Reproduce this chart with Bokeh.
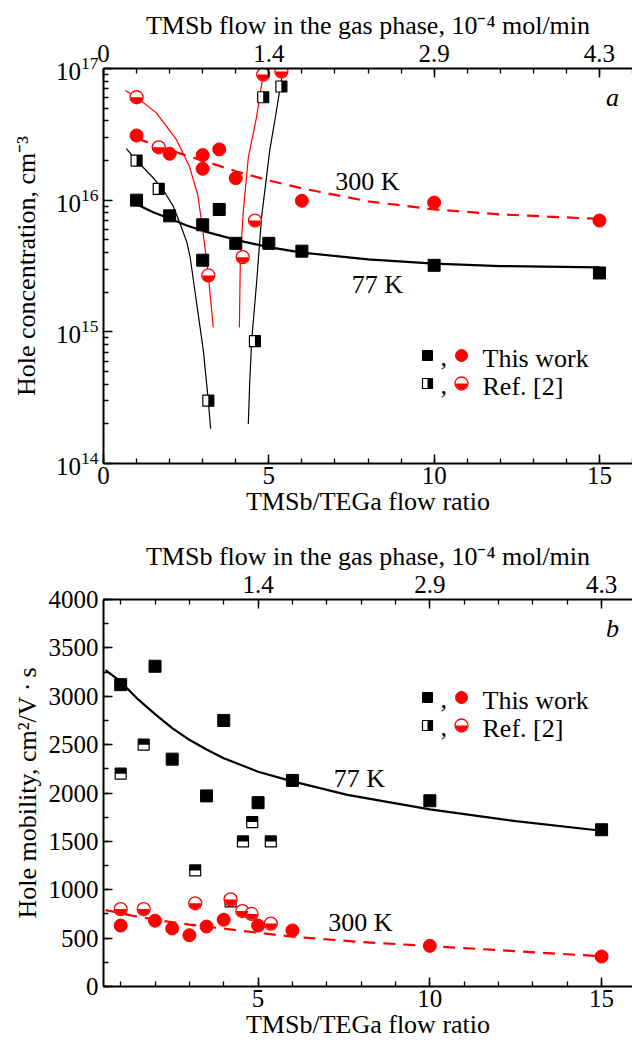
import math
from bokeh.plotting import figure
from bokeh.models import Range1d, LinearScale, LinearAxis, FixedTicker
from bokeh.core.properties import value
from bokeh.layouts import column
from bokeh.embed import file_html
from bokeh.resources import INLINE

# ---------------- panel a: hole concentration (cm^-3) ----------------
a_this77_ratio = [1, 2, 3, 3, 3.5, 4, 5, 6, 10, 15]
a_this77_conc = [1.0e16, 7.6e15, 6.5e15, 3.5e15, 8.5e15, 4.7e15, 4.7e15, 4.1e15, 3.2e15, 2.8e15]
a_this300_ratio = [1, 2, 3, 3, 3.5, 4, 6, 10, 15]
a_this300_conc = [3.1e16, 2.25e16, 2.2e16, 1.73e16, 2.43e16, 1.47e16, 9.9e15, 9.6e15, 7.0e15]
a_ref77_ratio = [1.0, 1.67, 3.17, 4.58, 4.83, 5.38]
a_ref77_conc = [2.0e16, 1.22e16, 3.0e14, 8.5e14, 6.05e16, 7.3e16]
a_ref300_ratio = [1.0, 1.67, 3.17, 4.21, 4.58, 4.83, 5.38]
a_ref300_conc = [6.05e16, 2.52e16, 2.68e15, 3.69e15, 7.0e15, 9.0e16, 9.5e16]

a_fit77_ratio = [1, 1.5, 2, 2.5, 3, 3.5, 4, 5, 6, 8, 10, 12, 15]
a_fit77_conc = [9.3e15, 8.1e15, 7.25e15, 6.45e15, 5.85e15, 5.4e15, 5.0e15, 4.4e15, 4.0e15, 3.55e15, 3.3e15, 3.16e15, 3.09e15]
a_fit300_ratio = [1, 2, 3, 4, 5, 6, 8, 10, 12, 15]
a_fit300_conc = [2.95e16, 2.4e16, 2.0e16, 1.66e16, 1.41e16, 1.23e16, 9.8e15, 8.5e15, 7.8e15, 7.2e15]
a_ref77_fitL_ratio = [0.69, 1.0, 1.5, 1.82, 2.1, 2.32, 2.52, 2.62, 2.82, 3.02, 3.17, 3.24]
a_ref77_fitL_conc = [2.46e16, 2.0e16, 1.48e16, 1.18e16, 9.1e15, 6.6e15, 4.8e15, 3.7e15, 1.63e15, 7.2e14, 3.0e14, 1.84e14]
a_ref77_fitR_ratio = [4.38, 4.42, 4.48, 4.63, 4.78, 5.03, 5.25, 5.41, 5.46]
a_ref77_fitR_conc = [2.0e14, 4.0e14, 8.5e14, 2.35e15, 7.4e15, 2.4e16, 5.1e16, 9.1e16, 1.0e17]
a_ref300_fitL_ratio = [0.66, 1.0, 1.6, 2.2, 2.6, 2.85, 3.0, 3.17, 3.32]
a_ref300_fitL_conc = [6.8e16, 6.05e16, 4.6e16, 2.9e16, 1.8e16, 1.1e16, 6.0e15, 2.7e15, 1.08e15]
a_ref300_fitR_ratio = [4.11, 4.14, 4.23, 4.38, 4.63, 4.83, 4.9]
a_ref300_fitR_conc = [1.08e15, 3.7e15, 8.3e15, 2.1e16, 4.3e16, 9.0e16, 1.0e17]

a_bottom_ticks = [0, 5, 10, 15]
a_top_labels = ["0", "1.4", "2.9", "4.3"]
a_y_ticks = [1e14, 1e15, 1e16, 1e17]

# ---------------- panel b: hole mobility (cm^2/V s) ----------------
b_this77_ratio = [1, 2, 2.5, 3.5, 4, 5, 6, 10, 15]
b_this77_mob = [3120, 3310, 2350, 1970, 2750, 1900, 2130, 1920, 1620]
b_ref77_ratio = [1, 1.67, 3.17, 4.2, 4.56, 4.83, 5.37]
b_ref77_mob = [2200, 2500, 1200, 880, 1500, 1700, 1500]
b_this300_ratio = [1, 2, 2.5, 3, 3.5, 4, 5, 6, 10, 15]
b_this300_mob = [630, 680, 600, 530, 620, 690, 630, 580, 420, 310]
b_ref300_ratio = [1, 1.67, 3.17, 4.2, 4.54, 4.81, 5.37]
b_ref300_mob = [800, 800, 860, 900, 780, 750, 650]

b_fit77_ratio = [0.56, 1, 1.5, 2, 2.5, 3, 3.5, 4, 5, 6, 7.6, 10, 12.5, 15]
b_fit77_mob = [3270, 3150, 2970, 2815, 2670, 2550, 2450, 2360, 2220, 2120, 1980, 1830, 1710, 1610]
b_fit300_ratio = [0.56, 1.3, 2, 3, 4, 5, 6, 8, 10, 12.5, 15]
b_fit300_mob = [790, 735, 690, 640, 598, 555, 515, 460, 418, 365, 312]

b_bottom_ticks = [5, 10, 15]
b_top_labels = ["1.4", "2.9", "4.3"]

# ---------------- style ----------------
SERIF = "Liberation Serif"
RED = "#ff0000"
TICK_FS = "25px"
LABEL_FS = "26px"
TEXT_FS = "26px"
W = 632
LEFT = 103
A_H, A_TOP, A_BOT = 525, 68, 62
B_H, B_TOP, B_BOT = 525, 74, 64
A_XR = (0, 16)
A_YR = (1e14, 1e17)
B_XR = (0.5, 15.9)
B_YR = (0, 4000)
SQ = 12
CI = 13
PX = dict(x_range_name="px", y_range_name="px")


def style_axis(ax, label_standoff=0, axis_standoff=0):
    ax.axis_line_width = 2
    ax.axis_line_color = "black"
    ax.major_tick_in = 9
    ax.major_tick_out = 0
    ax.minor_tick_in = 5
    ax.minor_tick_out = 0
    ax.major_tick_line_width = 1.5
    ax.minor_tick_line_width = 1.3
    ax.major_tick_line_color = "black"
    ax.minor_tick_line_color = "black"
    ax.major_label_text_font = SERIF
    ax.major_label_text_font_size = TICK_FS
    ax.major_label_text_color = "black"
    ax.axis_label_text_font = SERIF
    ax.axis_label_text_font_size = LABEL_FS
    ax.axis_label_text_font_style = "normal"
    ax.axis_label_text_color = "black"
    ax.major_label_standoff = label_standoff
    ax.axis_label_standoff = axis_standoff


def base_fig(h, top, bot, xr, yr, ytype):
    p = figure(width=W, height=h, x_range=Range1d(*xr), y_range=Range1d(*yr),
               y_axis_type=ytype, output_backend="svg", toolbar_location=None,
               min_border_left=LEFT, min_border_right=0, min_border_top=top,
               min_border_bottom=bot)
    p.outline_line_color = None
    p.xgrid.visible = False
    p.ygrid.visible = False
    p.background_fill_color = "white"
    p.border_fill_color = "white"
    # figure-local pixel ranges for legend keys
    p.extra_x_ranges = {"px": Range1d(LEFT, W)}
    p.extra_y_ranges = {"px": Range1d(h - bot, top)}
    p.extra_y_scales = {"px": LinearScale()}
    return p


# figure-local pixel -> data conversions used only to place annotation texts
def a_xy(px, py):
    fh = A_H - A_TOP - A_BOT
    lo, hi = math.log10(A_YR[0]), math.log10(A_YR[1])
    x = A_XR[0] + (px - LEFT) * (A_XR[1] - A_XR[0]) / (W - LEFT)
    y = 10 ** (hi - (py - A_TOP) * (hi - lo) / fh)
    return x, y


def b_xy(px, py):
    fh = B_H - B_TOP - B_BOT
    x = B_XR[0] + (px - LEFT) * (B_XR[1] - B_XR[0]) / (W - LEFT)
    y = B_YR[1] - (py - B_TOP) * (B_YR[1] - B_YR[0]) / fh
    return x, y


def texts(p, conv, pts, labels, align="left", style="normal"):
    xy = [conv(px, py) for px, py in pts]
    p.text(x=[c[0] for c in xy], y=[c[1] for c in xy], text=labels, text_font=value(SERIF),
           text_font_size=value(TEXT_FS), text_font_style=style, text_align=align,
           text_baseline="middle", text_color="black")


def half_circles(p, xs, ys, **kw):
    p.scatter(xs, ys, marker="circle", size=CI, fill_color="white", line_color=RED,
              line_width=1.3, **kw)
    p.wedge(xs, ys, radius=CI / 2 - 0.6, radius_units="screen", start_angle=math.pi,
            end_angle=2 * math.pi, fill_color=RED, line_color=None, **kw)


def legend(p, conv, y1, y2):
    xs_sq, xs_comma, xs_ci, xs_txt = 427, 440, 461, 482
    p.scatter([xs_sq], [y1], marker="square", size=10, fill_color="black", line_color="black", **PX)
    p.scatter([xs_ci], [y1], marker="circle", size=12, fill_color=RED, line_color=RED, **PX)
    p.scatter([xs_sq], [y2], marker="square", size=10, fill_color="white", line_color="black",
              line_width=1.2, **PX)
    p.rect([xs_sq + 2.5], [y2], width=5, height=10, fill_color="black", line_color=None, **PX)
    half_circles(p, [xs_ci], [y2], **PX)
    texts(p, conv, [(xs_comma, y1 + 2), (xs_comma, y2 + 2), (xs_txt, y1 + 3), (xs_txt, y2 + 3)],
          [",", ",", "This work", "Ref. [2]"])


# ================= panel a =================
p1 = base_fig(A_H, A_TOP, A_BOT, A_XR, A_YR, "log")
a_px_x = (W - LEFT) / (A_XR[1] - A_XR[0])

bottom1 = p1.below[0]
bottom1.ticker = FixedTicker(ticks=a_bottom_ticks, minor_ticks=list(range(0, 17)))
bottom1.axis_label = "TMSb/TEGa flow ratio"
left1 = p1.left[0]
left1.ticker = FixedTicker(ticks=a_y_ticks,
                           minor_ticks=[m * 10.0 ** e for e in (14, 15, 16) for m in range(2, 10)])
left1.axis_label = "Hole concentration, cm\u207b\u00b3"
top1 = LinearAxis(ticker=FixedTicker(ticks=a_bottom_ticks, minor_ticks=list(range(0, 17))),
                  major_label_overrides=dict(zip(a_bottom_ticks, a_top_labels)),
                  axis_label="TMSb flow in the gas phase, 10\u207b\u2074 mol/min")
p1.add_layout(top1, "above")
style_axis(bottom1, 3, 0)
style_axis(top1, 7, 2)
style_axis(left1, 5, 12)

# fits
p1.line(a_fit77_ratio, a_fit77_conc, line_color="black", line_width=2.2)
p1.line(a_fit300_ratio, a_fit300_conc, line_color=RED, line_width=2.2, line_dash="12 8")
p1.line(a_ref77_fitL_ratio, a_ref77_fitL_conc, line_color="black", line_width=1.2)
p1.line(a_ref77_fitR_ratio, a_ref77_fitR_conc, line_color="black", line_width=1.2)
p1.line(a_ref300_fitL_ratio, a_ref300_fitL_conc, line_color=RED, line_width=1.2)
p1.line(a_ref300_fitR_ratio, a_ref300_fitR_conc, line_color=RED, line_width=1.2)

# markers
p1.scatter(a_this77_ratio, a_this77_conc, marker="square", size=SQ, fill_color="black", line_color="black")
p1.scatter(a_this300_ratio, a_this300_conc, marker="circle", size=CI, fill_color=RED, line_color=RED)
p1.scatter(a_ref77_ratio, a_ref77_conc, marker="square", size=SQ - 1, fill_color="white",
           line_color="black", line_width=1.2)
dx = (SQ - 1) / 4 / a_px_x
p1.rect([x + dx for x in a_ref77_ratio], a_ref77_conc, width=2 * dx, height=SQ - 1,
        height_units="screen", fill_color="black", line_color=None)
half_circles(p1, a_ref300_ratio, a_ref300_conc)

texts(p1, a_xy, [(367, 181), (377, 284)], ["300 K", "77 K"], align="center")
texts(p1, a_xy, [(612, 97)], ["a"], align="center", style="italic")
legend(p1, a_xy, 355, 383)

# ================= panel b =================
p2 = base_fig(B_H, B_TOP, B_BOT, B_XR, B_YR, "linear")
b_px_y = (B_H - B_TOP - B_BOT) / (B_YR[1] - B_YR[0])

bottom2 = p2.below[0]
bottom2.ticker = FixedTicker(ticks=b_bottom_ticks, minor_ticks=list(range(1, 16)))
bottom2.axis_label = "TMSb/TEGa flow ratio"
left2 = p2.left[0]
left2.ticker = FixedTicker(ticks=list(range(0, 4001, 500)), minor_ticks=list(range(0, 4001, 250)))
left2.axis_label = "Hole mobility, cm\u00b2/V\u2009\u00b7\u2009s"
top2 = LinearAxis(ticker=FixedTicker(ticks=b_bottom_ticks, minor_ticks=list(range(1, 16))),
                  major_label_overrides=dict(zip(b_bottom_ticks, b_top_labels)),
                  axis_label="TMSb flow in the gas phase, 10\u207b\u2074 mol/min")
p2.add_layout(top2, "above")
style_axis(bottom2, 3, 0)
style_axis(top2, 7, 2)
style_axis(left2, 5, 4)

p2.line(b_fit77_ratio, b_fit77_mob, line_color="black", line_width=2.2)
p2.line(b_fit300_ratio, b_fit300_mob, line_color=RED, line_width=2.2, line_dash="12 8")

p2.scatter(b_this77_ratio, b_this77_mob, marker="square", size=SQ, fill_color="black", line_color="black")
p2.scatter(b_this300_ratio, b_this300_mob, marker="circle", size=CI, fill_color=RED, line_color=RED)
p2.scatter(b_ref77_ratio, b_ref77_mob, marker="square", size=SQ - 1, fill_color="white",
           line_color="black", line_width=1.2)
dy = (SQ - 1) / 4 / b_px_y
p2.rect(b_ref77_ratio, [y + dy for y in b_ref77_mob], width=SQ - 1, height=2 * dy,
        width_units="screen", fill_color="black", line_color=None)
half_circles(p2, b_ref300_ratio, b_ref300_mob)

# panel b positions are figure-local (page y minus the height of panel a)
legend(p2, b_xy, 697 - A_H, 725 - A_H)
texts(p2, b_xy, [(359, 778 - A_H), (360, 922 - A_H)], ["77 K", "300 K"], align="center")
texts(p2, b_xy, [(612, 628 - A_H)], ["b"], align="center", style="italic")

layout = column(p1, p2, spacing=0)
open("out.html", "w").write(file_html(layout, INLINE))
